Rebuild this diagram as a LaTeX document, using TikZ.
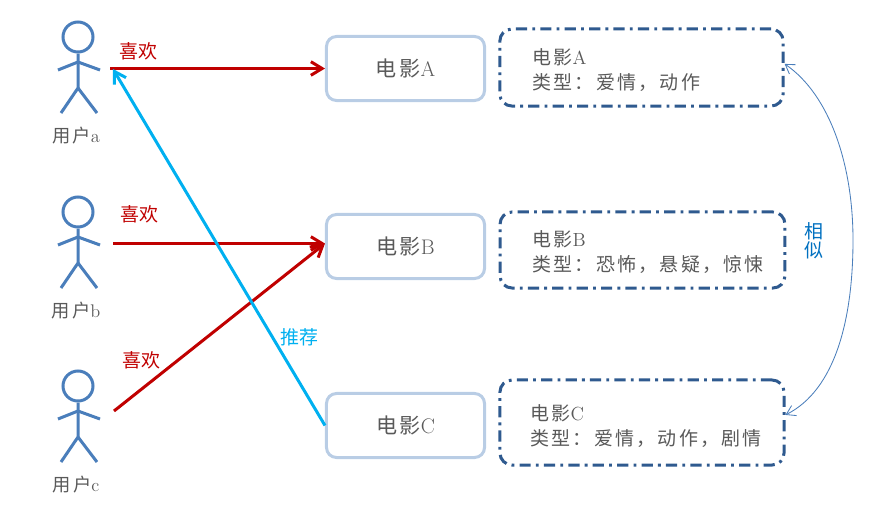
\documentclass[tikz,border=0pt]{standalone}
\usepackage{fontspec}
\usetikzlibrary{arrows.meta}
\newfontfamily\cjk[LetterSpace=12]{Noto Sans CJK SC}
\newfontfamily\cjkplain{Noto Sans CJK SC}
\definecolor{userblue}{HTML}{4A7EBB}
\definecolor{boxblue}{HTML}{B9CDE5}
\definecolor{infoblue}{HTML}{2F5A8F}
\definecolor{likered}{HTML}{C00000}
\definecolor{recblue}{HTML}{00B0F0}
\definecolor{simblue}{HTML}{0070C0}
\definecolor{textgray}{HTML}{595959}
\tikzset{
  userline/.style={userblue,line width=0.075cm},
  userhead/.style={circle,draw=userblue,line width=0.075cm,minimum size=0.75cm,inner sep=0pt},
  userlabel/.style={anchor=base,text=textgray,font=\fontsize{13}{15}\selectfont},
  moviebox/.style={draw=boxblue,line width=0.075cm,rounded corners=0.25cm,minimum width=3.95cm,minimum height=1.6cm,inner sep=0pt,text=textgray,font=\fontsize{15}{17}\selectfont},
  infobox/.style={draw=infoblue,line width=0.075cm,rounded corners=0.3cm,inner sep=0pt,dash pattern=on 0.28cm off 0.13cm on 0.07cm off 0.13cm},
  infotext/.style={anchor=west,align=left,inner sep=0pt,text=textgray,font=\fontsize{13.5}{17.8}\selectfont},
  likearrow/.style={likered,line width=0.075cm,-{Straight Barb[length=0.28cm,width=0.34cm]}},
  recarrow/.style={recblue,line width=0.075cm,-{Straight Barb[length=0.28cm,width=0.34cm]}},
  simcurve/.style={userblue,line width=0.6pt,{Straight Barb[length=0.22cm,width=0.28cm]}-{Straight Barb[length=0.22cm,width=0.28cm]}},
  likelabel/.style={likered,font=\fontsize{13.5}{15}\selectfont\cjkplain},
}
\begin{document}
\begin{tikzpicture}[x=0.025cm,y=-0.025cm]
\useasboundingbox (0,0) rectangle (875,514);
%users
\foreach \name/\ypos in {a/0,b/175,c/349}{
  \node[userhead](head\name) at (78,37+\ypos){};
  \draw[userline](head\name.south)--(78,88+\ypos)--(61,113+\ypos);
  \draw[userline](78,88+\ypos)--(97,113+\ypos);
  \draw[userline](58,70+\ypos)--(78,62+\ypos)--(100,70+\ypos);
  \node[userlabel](label\name) at (76,142+\ypos){{\cjk 用户}\name};
}
%movies
\node[moviebox](movieA) at (405.5,68.5){{\cjk 电影}A};
\node[moviebox](movieB) at (405.5,246.5){{\cjk 电影}B};
\node[moviebox](movieC) at (405.5,425.5){{\cjk 电影}C};
%infos
\node[infobox,minimum width=7.08cm,minimum height=1.925cm](infoA) at (641.5,67.5){};
\node[infobox,minimum width=7.12cm,minimum height=1.9cm](infoB) at (642.5,250){};
\node[infobox,minimum width=7.1cm,minimum height=2.125cm](infoC) at (642,422.5){};
\node[infotext](textA) at (532,70.5){{\cjk 电影}A\\{\cjk 类型：爱情，动作}};
\node[infotext](textB) at (532,252.5){{\cjk 电影}B\\{\cjk 类型：恐怖，悬疑，惊悚}};
\node[infotext](textC) at (530,426){{\cjk 电影}C\\{\cjk 类型：爱情，动作，剧情}};
%arrows
\coordinate(userRa) at (110,68.5);
\coordinate(userRb) at (113,243.5);
\coordinate(userRc) at (114,411);
\coordinate(userTip) at (113,69);
\draw[likearrow](userRa)--(userRa-|movieA.west);
\draw[likearrow](userRb)--(userRb-|movieB.west);
\draw[likearrow](userRc)--(userRb-|movieB.west);
\draw[recarrow](movieC.west)--(userTip);
\node[likelabel](likeA) at (138.5,51){喜欢};
\node[likelabel](likeB) at (139.5,214){喜欢};
\node[likelabel](likeC) at (141.5,360){喜欢};
\node[recblue,font=\fontsize{13.5}{15}\selectfont\cjkplain](rec) at (299,337){推荐};
%similar
\coordinate(simMid) at (853,240);
\draw[simcurve]([yshift=0.09cm]infoA.east)..controls (830,95) and (853,165)..(simMid)..controls (853,320) and (835,390)..([yshift=0.19cm]infoC.east);
\node[simblue,align=center,font=\fontsize{13.5}{13.5}\selectfont\cjkplain](sim) at (814,241){相\\似};
\end{tikzpicture}
\end{document}
